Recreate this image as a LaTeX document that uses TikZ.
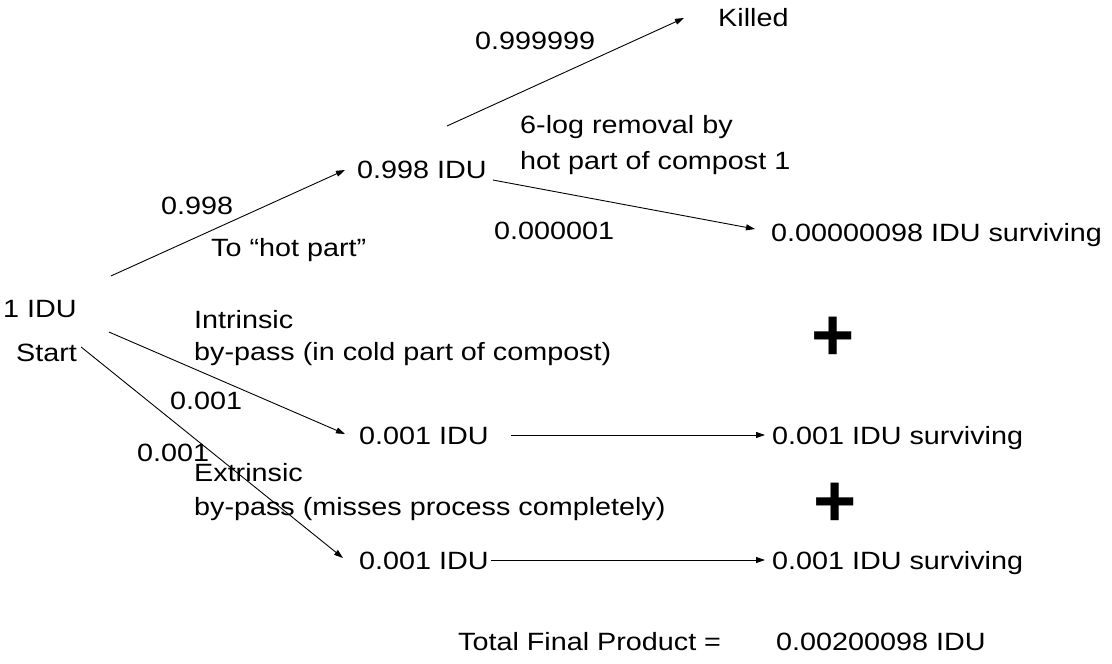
\documentclass[tikz,border=0pt]{standalone}
\usepackage{fontspec}
\setmainfont{Liberation Sans}[FakeStretch=1.15]
\newfontfamily\plusfont{Liberation Sans}
\usetikzlibrary{arrows.meta}
\begin{document}
\begin{tikzpicture}[x=1pt,y=-1pt,
  txt/.style={inner sep=0pt,anchor=base west,font=\fontsize{25}{30}\selectfont},
  plussign/.style={inner sep=0pt,anchor=base,font=\plusfont\bfseries\fontsize{74}{80}\selectfont},
  arr/.style={line width=0.9pt,-{Triangle[length=9pt,width=6pt]}}]
\useasboundingbox[fill=white] (0,0) rectangle (1112,664);
% main nodes
\node[txt] (n1) at (3,317) {1 IDU};
\node[txt] (nstart) at (16,361) {Start};
\node[txt] (n998) at (357,178) {0.998 IDU};
\node[txt] (nkilled) at (718,26) {Killed};
\node[txt] (nsurv1) at (771,241) {0.00000098 IDU surviving};
\node[txt] (nmid) at (359,444) {0.001 IDU};
\node[txt] (nlow) at (359,569) {0.001 IDU};
\node[txt] (nsurv2) at (772,444) {0.001 IDU surviving};
\node[txt] (nsurv3) at (772,569) {0.001 IDU surviving};
% labels
\node[txt] (l999) at (475,49) {0.999999};
\node[txt] (l6a) at (520,133) {6-log removal by};
\node[txt] (l6b) at (520,169) {hot part of compost 1};
\node[txt] (l998) at (161,214) {0.998};
\node[txt] (lhot) at (211,256) {To “hot part”};
\node[txt] (l1e6) at (494,239) {0.000001};
\node[txt] (lin1) at (194,328) {Intrinsic};
\node[txt] (lin2) at (194,360) {by-pass (in cold part of compost)};
\node[txt] (l001a) at (170,409) {0.001};
\node[txt] (l001b) at (137,461) {0.001};
\node[txt] (lex1) at (194,481) {Extrinsic};
\node[txt] (lex2) at (194,515) {by-pass (misses process completely)};
\node[txt] (ltot) at (458,650) {Total Final Product =};
\node[txt] (ltotv) at (776,650) {0.00200098 IDU};
\node[plussign] (p1) at (833,360) {+};
\node[plussign] (p2) at (835,526) {+};
% connectors
\draw[arr] ([shift={(34,-41)}]n1.base east) -- ([shift={(-12,-8)}]n998.base west);
\draw[arr] ([shift={(90,-52)}]n998.base west) -- ([shift={(-34,-8)}]nkilled.base west);
\draw[arr] ([shift={(6,2)}]n998.base east) -- ([shift={(-16,-12)}]nsurv1.base west);
\draw[arr] ([shift={(32,15)}]n1.base east) -- ([shift={(-14,-10)}]nmid.base west);
\draw[arr] ([shift={(4,-14)}]nstart.base east) -- ([shift={(-16,-11)}]nlow.base west);
\draw[arr] ([shift={(22,-9)}]nmid.base east) -- ([shift={(-7,-9)}]nsurv2.base west);
\draw[arr] ([shift={(2,-9)}]nlow.base east) -- ([shift={(-7,-9)}]nsurv3.base west);
\end{tikzpicture}
\end{document}
